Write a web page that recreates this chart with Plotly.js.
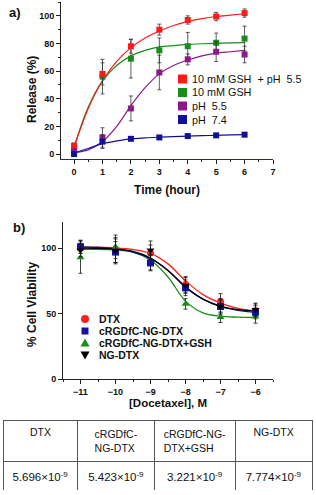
<!DOCTYPE html>
<html>
<head>
<meta charset="utf-8">
<script src="https://cdn.plot.ly/plotly-3.0.1.min.js"></script>
<style>html,body{margin:0;padding:0;background:#fff;}#chart{width:316px;height:495px;}</style>
</head>
<body>
<div id="chart"></div>
<script>
// ---------- Panel a: drug release ----------
const timeHours = [0, 1, 2, 3, 4, 5, 6];
const releaseNames = ['10 mM GSH  + pH  5.5', '10 mM GSH', 'pH  5.5', 'pH  7.4'];
const releaseColors = ['#ff1a1a', '#1a8c1a', '#8a1a8a', '#10109a'];
const releaseGshPh55 = [6, 58, 78, 90, 97, 99.5, 102];
const releaseGsh = [4, 56, 69, 75, 78, 80.5, 83.5];
const releasePh55 = [2, 12, 33, 59, 68.5, 74, 72];
const releasePh74 = [0, 9, 11, 12, 13, 13.5, 14];
const errGshPh55 = [2, 8, 5, 4, 3, 3, 3];
const errGsh = [2, 12.5, 14, 9, 10, 7, 9];
const errPh55 = [1, 7, 9, 12.5, 4, 7, 6];
const errPh74 = [1, 5, 1, 1, 1, 1, 1];
// fitted curves
const fitTime = [0, 0.5, 1, 1.5, 2, 2.5, 3, 3.5, 4, 4.5, 5, 5.5, 6];
const fitGshPh55 = [5, 33, 53, 67, 77, 84, 89, 93, 96, 98, 99.5, 100.5, 101.5];
const fitGsh = [5, 34, 53, 64, 71, 75, 77.5, 78.5, 79.3, 79.8, 80.1, 80.4, 80.6];
const fitPh55 = [1, 3, 9, 20, 35, 48, 58, 64, 68, 71, 73, 74, 75];
const fitPh74 = [1, 4, 7.5, 9.5, 11, 11.7, 12.2, 12.6, 13, 13.3, 13.5, 13.8, 14];

// ---------- Panel b: cell viability ----------
const logDose = [-11, -10, -9, -8, -7, -6];
const viabNames = ['DTX', 'cRGDfC-NG-DTX', 'cRGDfC-NG-DTX+GSH', 'NG-DTX'];
const viabColors = ['#ff2020', '#14149a', '#1a8c1a', '#000000'];
const viabSymbols = ['circle', 'square', 'triangle-up', 'triangle-down'];
const viabDTX = [101, 98, 96.4, 72.3, 59.2, 52.3];
const viabRGD = [101, 97, 88.7, 69.7, 55.4, 51];
const viabRGDGSH = [92.8, 101, 89.5, 57.4, 47.2, 47.7];
const viabNG = [98.5, 98, 98.5, 71.5, 55.4, 53];
const errDTX = [5, 9, 6, 6, 6, 5];
const errRGD = [5, 8, 6, 6, 5, 5];
const errRGDGSH = [12, 9, 6, 4, 4, 5];
const errNG = [5, 10, 7, 6, 6, 5];
const fitDose = [-11, -10.5, -10, -9.5, -9, -8.5, -8, -7.5, -7, -6.5, -6];
const fitDTX = [101, 100.8, 100.3, 99, 96, 88, 75, 64.5, 58, 54, 52];
const fitRGD = [101, 100.5, 99.5, 97, 92, 83, 70, 61, 55.5, 52.5, 51];
const fitRGDGSH = [99, 99, 98.5, 97, 91, 78, 59.5, 50.5, 48, 47.3, 47];
const fitNG = [100, 99.8, 99.3, 97.5, 92.5, 83, 70.5, 61, 55.5, 53, 52];

// ---------- Table ----------
const tableHeads = ['DTX', 'cRGDfC-<br>NG-DTX', 'cRGDfC-NG-<br>DTX+GSH', 'NG-DTX'];
const ic50Mantissa = ['5.696', '5.423', '3.221', '7.774'];
const ic50Exponent = [-9, -9, -9, -9];

// ---------- build ----------
const FONT = 'Liberation Sans, Arial, sans-serif';
const W = 316, H = 495;
const px = v => v / W;
const py = v => 1 - v / H;
const ERRC = '#333333';

const traces = [];
const relSeries = [releaseGshPh55, releaseGsh, releasePh55, releasePh74];
const relErr = [errGshPh55, errGsh, errPh55, errPh74];
const relFit = [fitGshPh55, fitGsh, fitPh55, fitPh74];
const drawOrderA = [1, 0, 2, 3];
drawOrderA.forEach(i => {
  traces.push({x: fitTime, y: relFit[i], mode: 'lines', line: {color: releaseColors[i], width: 1.2, shape: 'spline'},
    xaxis: 'x', yaxis: 'y', hoverinfo: 'skip', showlegend: false});
});
drawOrderA.forEach(i => {
  traces.push({x: timeHours, y: relSeries[i], mode: 'markers', name: releaseNames[i],
    marker: {symbol: 'square', size: 6, color: releaseColors[i]},
    error_y: {type: 'data', array: relErr[i], visible: true, color: ERRC, thickness: 0.8, width: 2},
    xaxis: 'x', yaxis: 'y', showlegend: false});
});

const viaSeries = [viabDTX, viabRGD, viabRGDGSH, viabNG];
const viaErr = [errDTX, errRGD, errRGDGSH, errNG];
const viaFit = [fitDTX, fitRGD, fitRGDGSH, fitNG];
[0, 2, 1, 3].forEach(i => {
  traces.push({x: fitDose, y: viaFit[i], mode: 'lines', line: {color: viabColors[i], width: 1.3, shape: 'spline'},
    xaxis: 'x2', yaxis: 'y2', hoverinfo: 'skip', showlegend: false});
});
[0, 2, 1, 3].forEach(i => {
  traces.push({x: logDose, y: viaSeries[i], mode: 'markers', name: viabNames[i],
    marker: {symbol: viabSymbols[i], size: 7, color: viabColors[i]},
    error_y: {type: 'data', array: viaErr[i], visible: true, color: '#111', thickness: 0.8, width: 2},
    xaxis: 'x2', yaxis: 'y2', showlegend: false});
});

traces.push({
  type: 'table',
  domain: {x: [px(3), px(313)], y: [py(490), py(420)]},
  columnwidth: [75, 77, 81, 77],
  header: {values: tableHeads.map(h => [h]), align: 'center', height: 36,
    font: {family: FONT, size: 10.5, color: '#111'}, line: {color: '#555', width: 1}, fill: {color: '#ffffff'}},
  cells: {values: ic50Mantissa.map((m, k) => [m + '×10<sup>' + ic50Exponent[k] + '</sup>']), align: 'center', height: 33,
    font: {family: FONT, size: 11.5, color: '#111'}, line: {color: '#555', width: 1}, fill: {color: '#ffffff'}}
});

const axisCommon = {
  showline: true, linecolor: '#222', linewidth: 1, showgrid: false, zeroline: false,
  ticks: 'outside', ticklen: 4, tickwidth: 1, tickcolor: '#222',
  tickfont: {family: FONT, size: 9, color: '#111', weight: 'bold'}
};

function paperText(text, x, y, font, extra) {
  return Object.assign({text: text, x: px(x), y: py(y), xref: 'paper', yref: 'paper', showarrow: false,
    xanchor: 'center', yanchor: 'middle', font: Object.assign({family: FONT, color: '#111'}, font)}, extra || {});
}

const annotations = [
  paperText('a)', 15, 13, {size: 13, weight: 'bold'}),
  paperText('b)', 19, 227, {size: 13, weight: 'bold'}),
  paperText('Release (%)', 32, 90, {size: 12, weight: 'bold'}, {textangle: -90}),
  paperText('% Cell Viability', 32, 305, {size: 12, weight: 'bold'}, {textangle: -90})
];
const shapes = [];
const legendARows = [79, 92.5, 106, 119.5];
releaseNames.forEach((n, i) => {
  shapes.push({type: 'rect', xref: 'paper', yref: 'paper', xsizemode: 'pixel', ysizemode: 'pixel',
    xanchor: px(182.5), yanchor: py(legendARows[i]), x0: -4.5, x1: 4.5, y0: -4.5, y1: 4.5,
    fillcolor: releaseColors[i], line: {width: 0}});
  annotations.push(paperText(n, 190, legendARows[i], {size: 10.8}, {xanchor: 'left'}));
});
const legendBRows = [319, 331, 343, 355];
const symbolPaths = {
  'triangle-up': 'M -4.5 -3.5 L 4.5 -3.5 L 0 4.5 Z',
  'triangle-down': 'M -4.5 3.5 L 4.5 3.5 L 0 -4.5 Z'
};
viabNames.forEach((n, i) => {
  const s = viabSymbols[i];
  const base = {xref: 'paper', yref: 'paper', xsizemode: 'pixel', ysizemode: 'pixel',
    xanchor: px(85), yanchor: py(legendBRows[i]), fillcolor: viabColors[i], line: {width: 0}};
  if (s === 'circle') shapes.push(Object.assign({type: 'circle', x0: -4, x1: 4, y0: -4, y1: 4}, base));
  else if (s === 'square') shapes.push(Object.assign({type: 'rect', x0: -3.5, x1: 3.5, y0: -3.5, y1: 3.5}, base));
  else shapes.push(Object.assign({type: 'path', path: symbolPaths[s]}, base));
  annotations.push(paperText(n, 97, legendBRows[i], {size: 10.5, weight: 'bold'}, {xanchor: 'left'}));
});

const layout = {
  width: W, height: H, margin: {l: 0, r: 0, t: 0, b: 0},
  paper_bgcolor: '#fff', plot_bgcolor: '#fff', showlegend: false,
  font: {family: FONT},
  xaxis: Object.assign({}, axisCommon, {domain: [px(61), px(273)], anchor: 'y', range: [-0.46, 7.0],
    tickmode: 'linear', tick0: 0, dtick: 1,
    minor: {tick0: 0, dtick: 0.5, ticks: 'outside', ticklen: 2, tickcolor: '#222'},
    linecolor: '#2a2a6a',
    title: {text: 'Time (hour)', standoff: 9, font: {family: FONT, size: 12, weight: 'bold', color: '#111'}}}),
  yaxis: Object.assign({}, axisCommon, {domain: [py(159), py(2)], anchor: 'x', range: [-3.6, 110],
    tickmode: 'linear', tick0: 0, dtick: 20,
    minor: {tick0: 0, dtick: 10, ticks: 'outside', ticklen: 2, tickcolor: '#222'}}),
  xaxis2: Object.assign({}, axisCommon, {domain: [px(63), px(273)], anchor: 'y2', range: [-11.5, -5.5],
    tickmode: 'linear', tick0: -11, dtick: 1,
    minor: {tick0: -11, dtick: 0.5, ticks: 'outside', ticklen: 2, tickcolor: '#222'},
    title: {text: '[Docetaxel], M', standoff: 3, font: {family: FONT, size: 11.5, weight: 'bold', color: '#111'}}}),
  yaxis2: Object.assign({}, axisCommon, {domain: [py(379), py(222)], anchor: 'x2', range: [0, 120],
    tickmode: 'linear', tick0: 0, dtick: 50}),
  annotations: annotations,
  shapes: shapes
};

Plotly.newPlot('chart', traces, layout, {staticPlot: true, displayModeBar: false});
</script>
</body>
</html>
